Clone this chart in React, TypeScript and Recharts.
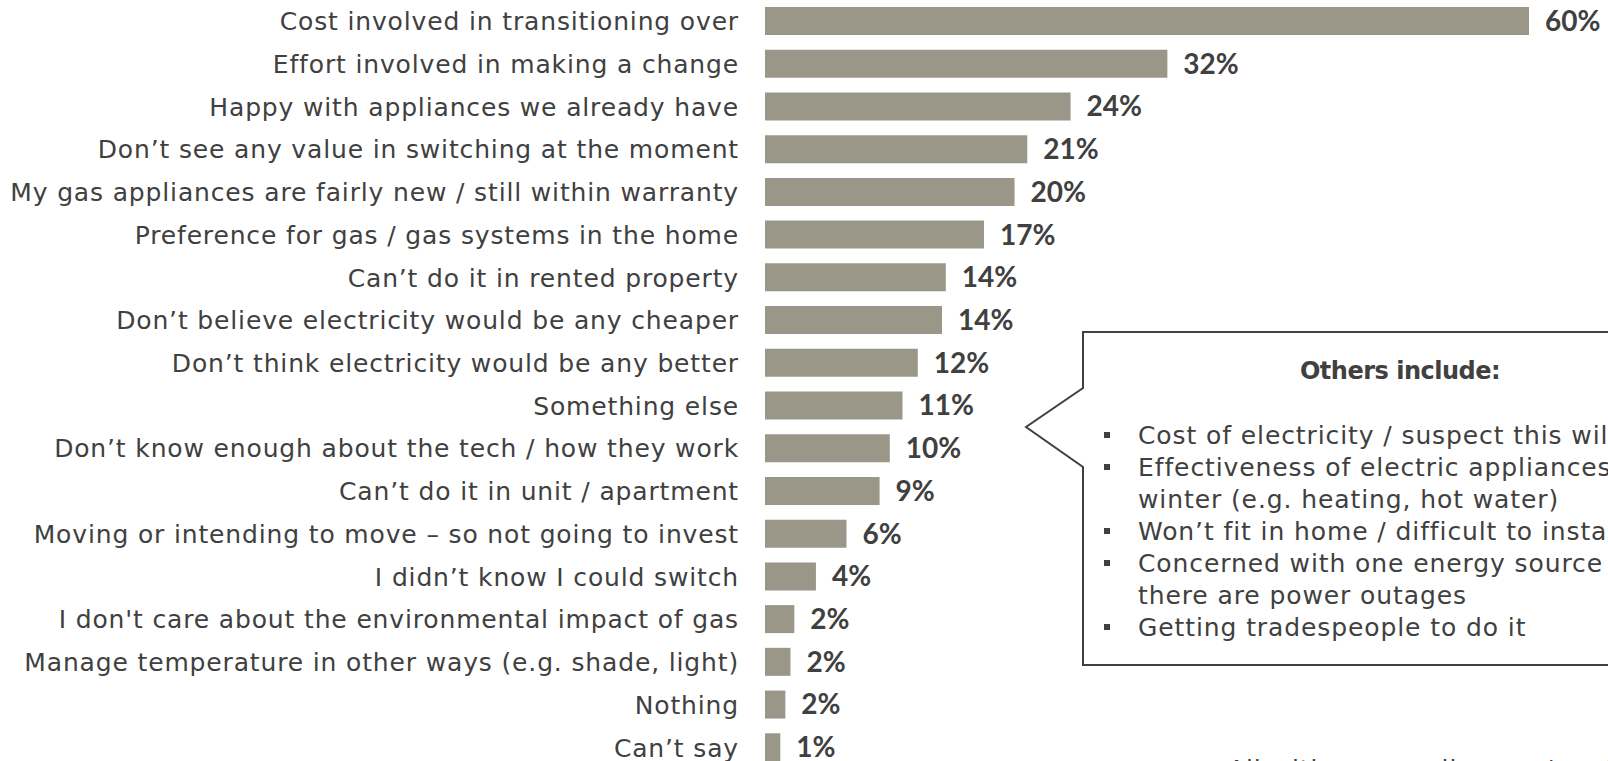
import { BarChart, Bar, XAxis, YAxis, LabelList, Customized } from "recharts";

const reasons = [
  "Cost involved in transitioning over",
  "Effort involved in making a change",
  "Happy with appliances we already have",
  "Don’t see any value in switching at the moment",
  "My gas appliances are fairly new / still within warranty",
  "Preference for gas / gas systems in the home",
  "Can’t do it in rented property",
  "Don’t believe electricity would be any cheaper",
  "Don’t think electricity would be any better",
  "Something else",
  "Don’t know enough about the tech / how they work",
  "Can’t do it in unit / apartment",
  "Moving or intending to move – so not going to invest",
  "I didn’t know I could switch",
  "I don't care about the environmental impact of gas",
  "Manage temperature in other ways (e.g. shade, light)",
  "Nothing",
  "Can’t say",
];

// unrounded shares; labels show them rounded
const shares = [60, 31.6, 24, 20.6, 19.6, 17.2, 14.2, 13.9, 12, 10.8, 9.8, 9, 6.4, 4, 2.3, 2, 1.6, 1.2];

const othersTitle = "Others include:";
const othersLines = [
  { text: "Cost of electricity / suspect this will increase", bullet: true },
  { text: "Effectiveness of electric appliances in", bullet: true },
  { text: "winter (e.g. heating, hot water)", bullet: false },
  { text: "Won’t fit in home / difficult to install", bullet: true },
  { text: "Concerned with one energy source if", bullet: true },
  { text: "there are power outages", bullet: false },
  { text: "Getting tradespeople to do it", bullet: true },
];
const baseNote = "All with gas appliances / systems";

const data = reasons.map((reason, i) => ({ reason, share: shares[i] }));

const FONT = "'DejaVu Sans', sans-serif";
const INK = "#404040";

// callout box with the arrow pointing at the bars
function Callout() {
  return (
    <g>
      <path
        d="M 1620 332 L 1083 332 L 1083 388 L 1026 427 L 1083 467 L 1083 665 L 1620 665"
        fill="#fff"
        stroke={INK}
        strokeWidth={2}
      />
      <text
        x={1400}
        y={371}
        textAnchor="middle"
        dominantBaseline="central"
        fontFamily={FONT}
        fontSize={24}
        fontWeight={700}
        letterSpacing={-0.5}
        fill={INK}
      >
        {othersTitle}
      </text>
      {othersLines.map((l, i) => {
        const y = 435 + i * 32;
        return (
          <g key={i}>
            {l.bullet && <rect x={1104} y={y - 3} width={6} height={6} fill={INK} />}
            <text
              x={1138}
              y={y}
              dominantBaseline="central"
              fontFamily={FONT}
              fontSize={25}
              letterSpacing={0.9}
              fill={INK}
            >
              {l.text}
            </text>
          </g>
        );
      })}
      <text x={1228} y={778} fontFamily={FONT} fontSize={25} letterSpacing={0.9} fill={INK}>
        {baseNote}
      </text>
    </g>
  );
}

export default function App() {
  return (
    <div
      style={{
        position: "fixed",
        top: 0,
        left: 0,
        width: 1608,
        height: 761,
        overflow: "hidden",
        background: "#fff",
      }}
    >
      <BarChart
        width={1608}
        height={769}
        data={data}
        layout="vertical"
        margin={{ top: 0, right: 79, left: 0, bottom: 0 }}
        barSize={28}
      >
        <XAxis type="number" domain={[0, 60]} hide />
        <YAxis
          type="category"
          dataKey="reason"
          width={765}
          axisLine={false}
          tickLine={false}
          tickMargin={20}
          interval={0}
          tick={{ fontSize: 25, fill: INK, fontFamily: FONT, letterSpacing: 0.85 }}
        />
        <Bar dataKey="share" fill="#9a9788" isAnimationActive={false}>
          <LabelList
            dataKey="share"
            position="right"
            offset={16}
            formatter={(v: number) => `${Math.round(v)}%`}
            style={{ fontSize: 28, fontWeight: 700, fill: INK, fontFamily: "Lato, sans-serif" }}
          />
        </Bar>
        <Customized component={Callout} />
      </BarChart>
    </div>
  );
}
